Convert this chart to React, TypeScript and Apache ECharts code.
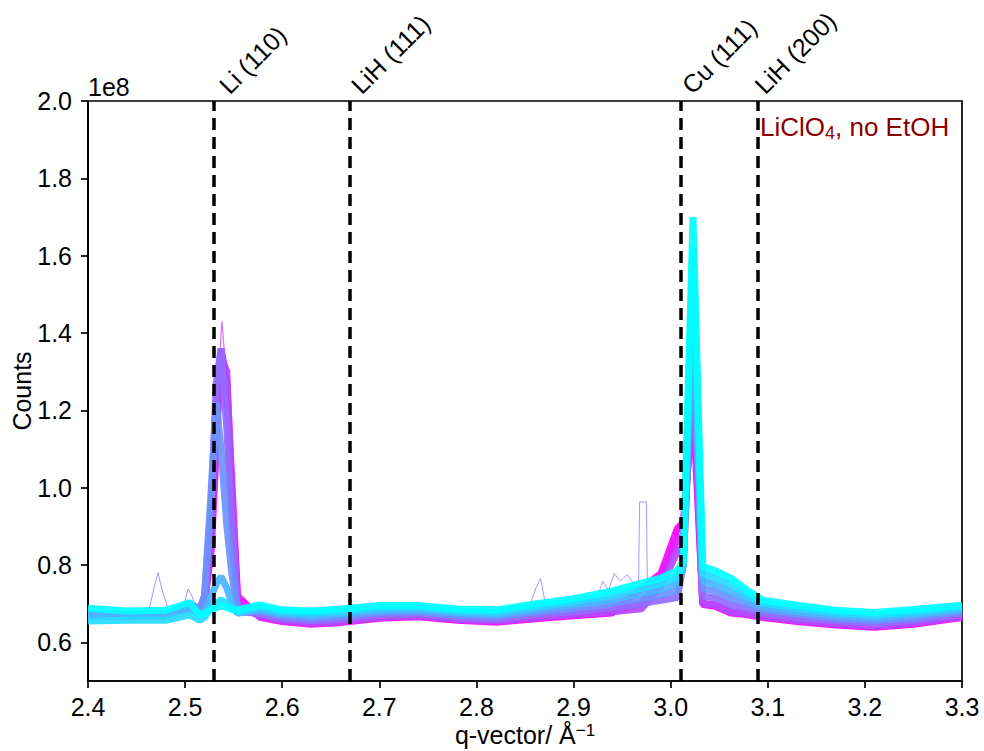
import React, { useEffect, useRef } from "react";
import * as echarts from "echarts";

// ---------- data (counts in units of 1e8) ----------
const qGrid = [
  2.40, 2.44, 2.48, 2.505, 2.515, 2.520, 2.527, 2.532, 2.537, 2.543, 2.548, 2.554,
  2.577, 2.60, 2.63, 2.66, 2.70, 2.74, 2.78, 2.82, 2.86, 2.90, 2.94, 2.97, 2.99,
  3.007, 3.013, 3.023, 3.033, 3.045, 3.062, 3.078, 3.095, 3.13, 3.17, 3.21, 3.25, 3.30,
];

const scan1 = [
  0.668, 0.667, 0.669, 0.690, 0.680, 0.70, 0.84, 1.10, 1.36, 1.27, 1.02, 0.72,
  0.665, 0.654, 0.647, 0.651, 0.662, 0.666, 0.657, 0.652, 0.661, 0.669, 0.676, 0.740, 0.778,
  0.895, 0.91, 1.22, 0.698, 0.694, 0.676, 0.672, 0.664, 0.654, 0.645, 0.639, 0.647, 0.664,
];
const scan2 = [
  0.670, 0.669, 0.671, 0.695, 0.682, 0.70, 0.88, 1.20, 1.35, 1.22, 0.97, 0.70,
  0.667, 0.656, 0.649, 0.653, 0.664, 0.668, 0.659, 0.654, 0.663, 0.671, 0.678, 0.700, 0.770,
  0.865, 0.875, 1.27, 0.700, 0.696, 0.678, 0.674, 0.666, 0.656, 0.647, 0.641, 0.649, 0.666,
];
const scan3 = [
  0.672, 0.671, 0.672, 0.698, 0.684, 0.70, 0.88, 1.15, 1.34, 1.30, 0.98, 0.70,
  0.668, 0.657, 0.650, 0.654, 0.665, 0.669, 0.660, 0.655, 0.664, 0.672, 0.679, 0.687, 0.745,
  0.835, 0.845, 1.32, 0.701, 0.697, 0.679, 0.675, 0.667, 0.657, 0.648, 0.642, 0.650, 0.667,
];
const scan4 = [
  0.674, 0.672, 0.674, 0.700, 0.686, 0.72, 0.96, 1.27, 1.36, 1.15, 0.90, 0.68,
  0.674, 0.662, 0.656, 0.660, 0.671, 0.674, 0.665, 0.661, 0.671, 0.680, 0.690, 0.700, 0.709,
  0.716, 0.80, 1.38, 0.720, 0.715, 0.696, 0.687, 0.675, 0.665, 0.655, 0.649, 0.657, 0.673,
];
const scan5 = [
  0.670, 0.669, 0.671, 0.694, 0.684, 0.72, 1.00, 1.22, 1.10, 0.90, 0.78, 0.68,
  0.680, 0.668, 0.662, 0.667, 0.677, 0.679, 0.670, 0.667, 0.678, 0.688, 0.701, 0.713, 0.723,
  0.733, 0.80, 1.44, 0.739, 0.733, 0.714, 0.699, 0.684, 0.673, 0.662, 0.656, 0.664, 0.679,
];
const scan6 = [
  0.671, 0.669, 0.670, 0.688, 0.672, 0.68, 0.72, 0.75, 0.77, 0.74, 0.70, 0.675,
  0.685, 0.673, 0.669, 0.673, 0.683, 0.685, 0.676, 0.672, 0.685, 0.697, 0.711, 0.727, 0.738,
  0.751, 0.80, 1.52, 0.758, 0.750, 0.731, 0.712, 0.692, 0.680, 0.669, 0.663, 0.671, 0.684,
];
const scan7 = [
  0.655, 0.657, 0.657, 0.671, 0.657, 0.665, 0.69, 0.70, 0.71, 0.70, 0.69, 0.678,
  0.691, 0.679, 0.675, 0.680, 0.689, 0.690, 0.681, 0.678, 0.692, 0.705, 0.722, 0.740, 0.752,
  0.768, 0.805, 1.62, 0.777, 0.768, 0.749, 0.724, 0.701, 0.688, 0.676, 0.670, 0.678, 0.690,
];
const scan8 = [
  0.688, 0.681, 0.683, 0.703, 0.670, 0.675, 0.685, 0.69, 0.695, 0.69, 0.685, 0.684,
  0.697, 0.684, 0.681, 0.686, 0.695, 0.695, 0.686, 0.684, 0.699, 0.713, 0.733, 0.753, 0.766,
  0.786, 0.81, 1.70, 0.796, 0.786, 0.766, 0.736, 0.709, 0.696, 0.683, 0.677, 0.685, 0.696,
];

// a single glitchy scan with spikes
const glitchQ = [
  2.40, 2.462, 2.468, 2.472, 2.477, 2.484, 2.498, 2.503, 2.507, 2.512, 2.60, 2.70, 2.80,
  2.855, 2.861, 2.866, 2.871, 2.90, 2.925, 2.930, 2.936, 2.942, 2.948, 2.955, 2.962,
  2.967, 2.968, 2.975, 2.976, 2.985,
];
const glitchCounts = [
  0.675, 0.676, 0.74, 0.78, 0.73, 0.676, 0.69, 0.738, 0.72, 0.69, 0.675, 0.685, 0.68,
  0.695, 0.74, 0.765, 0.70, 0.705, 0.72, 0.758, 0.735, 0.778, 0.758, 0.775, 0.752,
  0.752, 0.963, 0.963, 0.755, 0.765,
];

// the few thin early scans whose Li peak reaches highest
const tipQ = [2.522, 2.529, 2.535, 2.538, 2.541, 2.547, 2.552];
const tipCounts = [0.72, 0.98, 1.32, 1.43, 1.33, 1.00, 0.73];

const refQ = [2.534, 2.670, 3.0105, 3.0855];
const refLabels = ["Li (110)", "LiH (111)", "Cu (111)", "LiH (200)"];

const xTicks = [2.4, 2.5, 2.6, 2.7, 2.8, 2.9, 3.0, 3.1, 3.2, 3.3];
const yTicks = [0.6, 0.8, 1.0, 1.2, 1.4, 1.6, 1.8, 2.0];

const scans = [scan1, scan2, scan3, scan4, scan5, scan6, scan7, scan8];

// ---------- style ----------
const FONT = '"Liberation Sans", Arial, Helvetica, sans-serif';
const scanColors = [
  "#ff00ff", "#db24ff", "#b649ff", "#926dff", "#6d92ff", "#49b6ff", "#24dbff", "#00ffff",
];
const GRID = { left: 88, top: 101, width: 874, height: 580 };
const X_MIN = 2.4, X_MAX = 3.3, Y_MIN = 0.5, Y_MAX = 2.0;

export default function App() {
  const ref = useRef<HTMLDivElement>(null);

  useEffect(() => {
    if (!ref.current) return;
    const chart = echarts.init(ref.current, undefined, { renderer: "svg" });

    const series: any[] = [];
    series.push({
      type: "line",
      name: "glitch",
      data: glitchQ.map((q, i) => [q, glitchCounts[i]]),
      symbol: "none",
      silent: true,
      lineStyle: { color: "rgba(140,115,255,0.75)", width: 1 },
      z: 1,
    });
    series.push({
      type: "line",
      name: "tip",
      data: tipQ.map((q, i) => [q, tipCounts[i]]),
      symbol: "none",
      silent: true,
      lineStyle: { color: "rgba(225,70,255,0.8)", width: 1.2 },
      z: 1,
    });
    scans.forEach((s, k) => {
      series.push({
        type: "line",
        name: "scan" + (k + 1),
        data: qGrid.map((q, i) => [q, s[i]]),
        symbol: "none",
        silent: true,
        lineStyle: { color: scanColors[k], width: 7, opacity: 0.92, join: "bevel" },
        z: 2,
      });
    });
    series.push({
      type: "line",
      name: "refs",
      data: [],
      silent: true,
      z: 5,
      markLine: {
        silent: true,
        symbol: ["none", "none"],
        label: { show: false },
        lineStyle: { color: "#000", width: 3.5, type: [12, 7], opacity: 1 },
        emphasis: { disabled: true },
        data: refQ.map((q) => ({ xAxis: q })),
      },
    });

    chart.setOption({
      animation: false,
      backgroundColor: "#fff",
      grid: {
        left: GRID.left,
        top: GRID.top,
        width: GRID.width,
        height: GRID.height,
        show: true,
        borderColor: "#000",
        borderWidth: 1.7,
        backgroundColor: "transparent",
        containLabel: false,
        outerBoundsMode: "none",
      },
      xAxis: {
        type: "value",
        min: X_MIN,
        max: X_MAX,
        axisLine: { show: true, onZero: false, lineStyle: { color: "#000", width: 1.7 } },
        axisTick: {
          show: true,
          inside: false,
          length: 7,
          customValues: xTicks,
          lineStyle: { color: "#000", width: 1.7 },
        },
        axisLabel: {
          customValues: xTicks,
          formatter: (v: number) => v.toFixed(1),
          color: "#000",
          fontSize: 25,
          fontFamily: FONT,
          margin: 13,
        },
        splitLine: { show: false },
        name: "q-vector/ Å{sup|−1}",
        nameLocation: "middle",
        nameGap: 41,
        nameMoveOverlap: false,
        nameTextStyle: {
          color: "#000",
          fontSize: 25,
          fontFamily: FONT,
          lineHeight: 25,
          rich: {
            sup: { fontSize: 17, fontFamily: FONT, color: "#000", lineHeight: 17, verticalAlign: "top" },
          },
        },
      },
      yAxis: {
        type: "value",
        min: Y_MIN,
        max: Y_MAX,
        axisLine: { show: true, onZero: false, lineStyle: { color: "#000", width: 1.7 } },
        axisTick: {
          show: true,
          inside: false,
          length: 7,
          customValues: yTicks,
          lineStyle: { color: "#000", width: 1.7 },
        },
        axisLabel: {
          customValues: yTicks,
          formatter: (v: number) => v.toFixed(1),
          color: "#000",
          fontSize: 25,
          fontFamily: FONT,
          margin: 16,
        },
        splitLine: { show: false },
        name: "Counts",
        nameLocation: "middle",
        nameGap: 54,
        nameMoveOverlap: false,
        nameTextStyle: { color: "#000", fontSize: 25, fontFamily: FONT },
      },
      series,
    });

    const graphics: any[] = refQ.map((q, i) => {
      const p = chart.convertToPixel({ xAxisIndex: 0, yAxisIndex: 0 }, [q, Y_MAX]) as number[];
      return {
        type: "text",
        x: p[0] + 14,
        y: p[1] - 3,
        rotation: Math.PI / 4,
        silent: true,
        style: {
          text: refLabels[i],
          fill: "#000",
          fontSize: 25,
          fontFamily: FONT,
          align: "left",
          verticalAlign: "bottom",
          textAlign: "left",
          textVerticalAlign: "bottom",
        },
      };
    });
    graphics.push({
      type: "text",
      x: GRID.left,
      y: GRID.top - 2,
      silent: true,
      style: {
        text: "1e8",
        fill: "#000",
        fontSize: 25,
        fontFamily: FONT,
        align: "left",
        verticalAlign: "bottom",
        textAlign: "left",
        textVerticalAlign: "bottom",
      },
    });
    graphics.push({
      type: "text",
      x: GRID.left + GRID.width - 202,
      y: GRID.top + 26,
      silent: true,
      style: {
        text: "LiClO{sub|4}, no EtOH",
        fill: "#8b0000",
        fontSize: 26,
        fontFamily: FONT,
        lineHeight: 30,
        align: "left",
        verticalAlign: "middle",
        textAlign: "left",
        textVerticalAlign: "middle",
        rich: {
          sub: { fontSize: 18, fontFamily: FONT, fill: "#8b0000", lineHeight: 18, verticalAlign: "bottom" },
        },
      },
    });
    chart.setOption({ graphic: graphics });

    return () => chart.dispose();
  }, []);

  return (
    <div
      ref={ref}
      style={{ position: "absolute", left: 0, top: 0, width: 984, height: 751, background: "#fff" }}
    />
  );
}
